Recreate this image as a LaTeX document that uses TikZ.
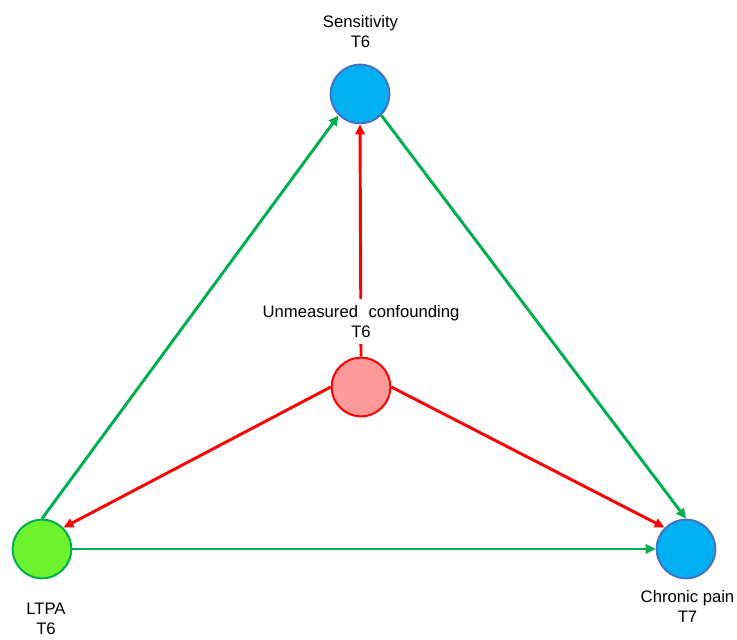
\documentclass[tikz,border=0pt]{standalone}
\usepackage{fontspec}
\setmainfont{Liberation Sans}
\usetikzlibrary{arrows.meta}
\definecolor{skyfill}{HTML}{00B0F0}
\definecolor{skyedge}{HTML}{4472C4}
\definecolor{limefill}{HTML}{6DF22E}
\definecolor{leafgreen}{HTML}{00B050}
\definecolor{pinkfill}{HTML}{FF9999}
\definecolor{pathred}{HTML}{FF0000}
\begin{document}
\begin{tikzpicture}[x=0.75pt,y=-0.75pt,
  varnode/.style={circle,line width=1.5pt,minimum size=44pt,inner sep=0pt},
  lbl/.style={align=center,inner sep=0pt,font=\fontsize{12.5}{15}\selectfont},
  causal/.style={line width=2.2pt,-{Triangle[length=7.5pt,width=7pt]}},
  good/.style={causal,draw=leafgreen},
  bad/.style={causal,draw=pathred}]
\useasboundingbox[fill=white] (0,0) rectangle (737,639);

% variables
\node[varnode,fill=skyfill,draw=skyedge] (sens) at (360,94) {};
\node[varnode,fill=pinkfill,draw=pathred] (conf) at (361,387) {};
\node[varnode,fill=limefill,draw=leafgreen] (ltpa) at (42,549) {};
\node[varnode,fill=skyfill,draw=skyedge] (pain) at (686,549) {};

% labels
\node[lbl] (senslbl) at (360.5,32) {Sensitivity\\T6};
\node[lbl] (ltpalbl) at (46,618.5) {LTPA\\T6};
\node[lbl] (painlbl) at (687.5,606) {Chronic pain\\T7};

% confounding paths (drawn first so the label covers the vertical one)
\draw[bad] (conf.north) -- (sens.south);
\draw[bad] (conf.west) -- (ltpa.45);
\draw[bad] (conf.east) -- (pain.135);
\node[lbl,fill=white,inner xsep=2pt,inner ysep=5pt] (conflbl) at (361,321.5)
  {Unmeasured\hspace{0.35em} confounding\\T6};

% hypothesised paths
\draw[good] (ltpa.north) -- (sens.225);
\draw[good] (sens.315) -- (pain.north);
\draw[good] (ltpa.east) -- (pain.west);
\end{tikzpicture}
\end{document}
